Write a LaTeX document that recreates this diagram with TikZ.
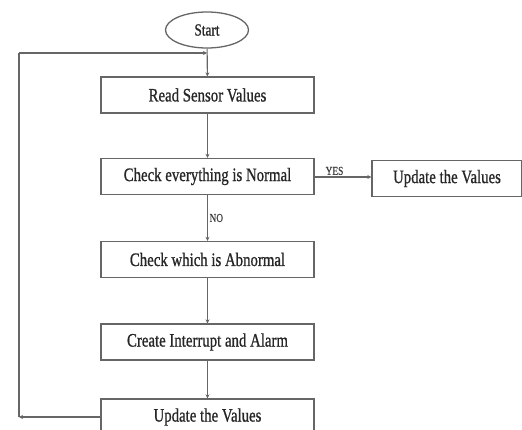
\documentclass[tikz,border=0pt]{standalone}
\usepackage{fontspec}
\usepackage{graphicx}
\setmainfont[FakeBold=1.0]{Liberation Serif}
\usetikzlibrary{shapes.geometric,arrows.meta}
\newcommand\ctxt[1]{\scalebox{0.78}[1]{#1}}
\begin{document}
\begin{tikzpicture}[x=1pt,y=-1pt,
  box/.style={draw=black!60,line width=1.3pt,minimum width=213pt,minimum height=36pt,inner sep=0pt,font=\fontsize{19}{19}\selectfont,text=black!85},
  rbox/.style={box,minimum width=150pt},
  term/.style={draw=black!60,line width=1.3pt,ellipse,minimum width=83pt,minimum height=36pt,inner sep=0pt,font=\fontsize{17}{17}\selectfont,text=black!85},
  conn/.style={draw=black!60,line width=1.1pt,-{Stealth[length=4pt,width=4pt]}},
  lbl/.style={font=\fontsize{12}{12}\selectfont,text=black!75,inner sep=1.5pt}]
\useasboundingbox (0,0) rectangle (522,430);
\clip (0,0) rectangle (522,430);
\node[term] (start) at (207,30) {\ctxt{Start}};
\node[box] (read) at (207.5,95) {\ctxt{Read Sensor Values}};
\node[box] (normal) at (207.5,176.5) {\ctxt{Check everything is Normal}};
\node[rbox] (upd1) at (447,178.5) {\ctxt{Update the Values}};
\node[box] (abn) at (207.5,259.5) {\ctxt{Check which is Abnormal}};
\node[box] (intr) at (207.5,342) {\ctxt{Create Interrupt and Alarm}};
\node[box] (upd2) at (207.5,417) {\ctxt{Update the Values}};
\coordinate (bl) at (19,417);
\coordinate (tl) at (19,53);
\coordinate (tm) at (207,53);
\draw[conn] (start) -- (read);
\draw[conn] (read) -- (normal);
\draw[conn] (normal.east |- 0,177) -- node[lbl,above,pos=0.35]{\ctxt{YES}} (upd1.west |- 0,177);
\draw[conn] (normal) -- node[lbl,right,pos=0.5]{\ctxt{NO}} (abn);
\draw[conn] (abn) -- (intr);
\draw[conn] (intr) -- (upd2);
\draw[conn] (upd2.west) -- (bl);
\draw[draw=black!60,line width=1.1pt] (bl) -- (tl);
\draw[conn] (tl) -- (tm);
\end{tikzpicture}
\end{document}
